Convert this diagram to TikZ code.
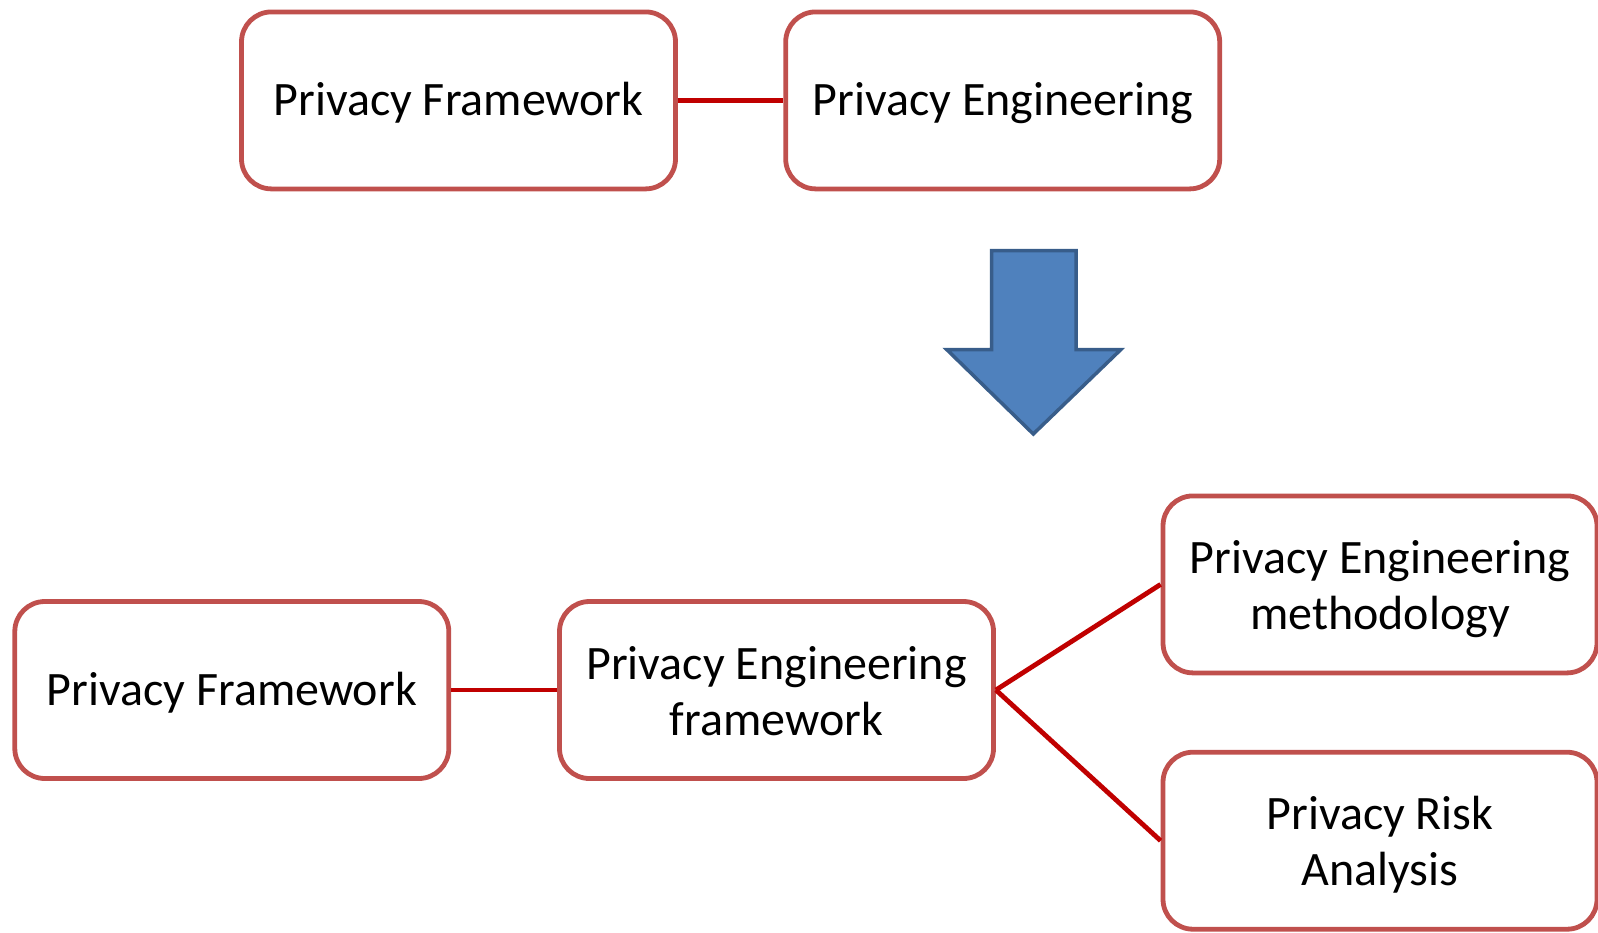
\documentclass[tikz,border=0pt]{standalone}
\usepackage{fontspec}
\setmainfont{Carlito}
\definecolor{boxred}{HTML}{C0504D}
\definecolor{linered}{HTML}{C00000}
\definecolor{arrowfill}{HTML}{4F81BD}
\definecolor{arrowdraw}{HTML}{385D8A}
\newcommand{\twolines}[2]{\rule{0pt}{44pt}#1\\#2}
\begin{document}
\begin{tikzpicture}[x=1pt,y=-1pt,
  box/.style={draw=boxred, line width=4.8pt, fill=white, rounded corners=30pt,
    minimum width=434pt, minimum height=177pt, inner sep=0pt, align=center,
    font=\fontsize{48}{56}\selectfont,
    execute at begin node={\rule{0pt}{40pt}},
    execute at end node={\rule[-10pt]{0pt}{10pt}}},
  link/.style={draw=linered, line width=4.8pt}]
\useasboundingbox (0,0) rectangle (1598,932);
\node[box] (tpf) at (458.5,100.4) {Privacy Framework};
\node[box] (tpe) at (1002.7,100.4) {Privacy Engineering};
\draw[link] (tpf.east) -- (tpe.west);
\draw[fill=arrowfill, draw=arrowdraw, line width=3.5pt, line join=miter]
  (991.5,250.7) -- (1076,250.7) -- (1076,349.5) -- (1120.9,349.5) -- (1033.3,434)
  -- (946.7,349.5) -- (991.5,349.5) -- cycle;
\node[box] (bpf) at (231.8,690) {Privacy Framework};
\node[box] (pef) at (776.5,690) {\twolines{Privacy Engineering}{framework}};
\node[box] (pem) at (1380,584.4) {\twolines{Privacy Engineering}{methodology}};
\node[box] (pra) at (1380,840.7) {\twolines{Privacy Risk}{Analysis}};
\draw[link] (bpf.east) -- (pef.west);
\draw[link] (pef.east) -- (pem.west);
\draw[link] (pef.east) -- (pra.west);
\end{tikzpicture}
\end{document}
